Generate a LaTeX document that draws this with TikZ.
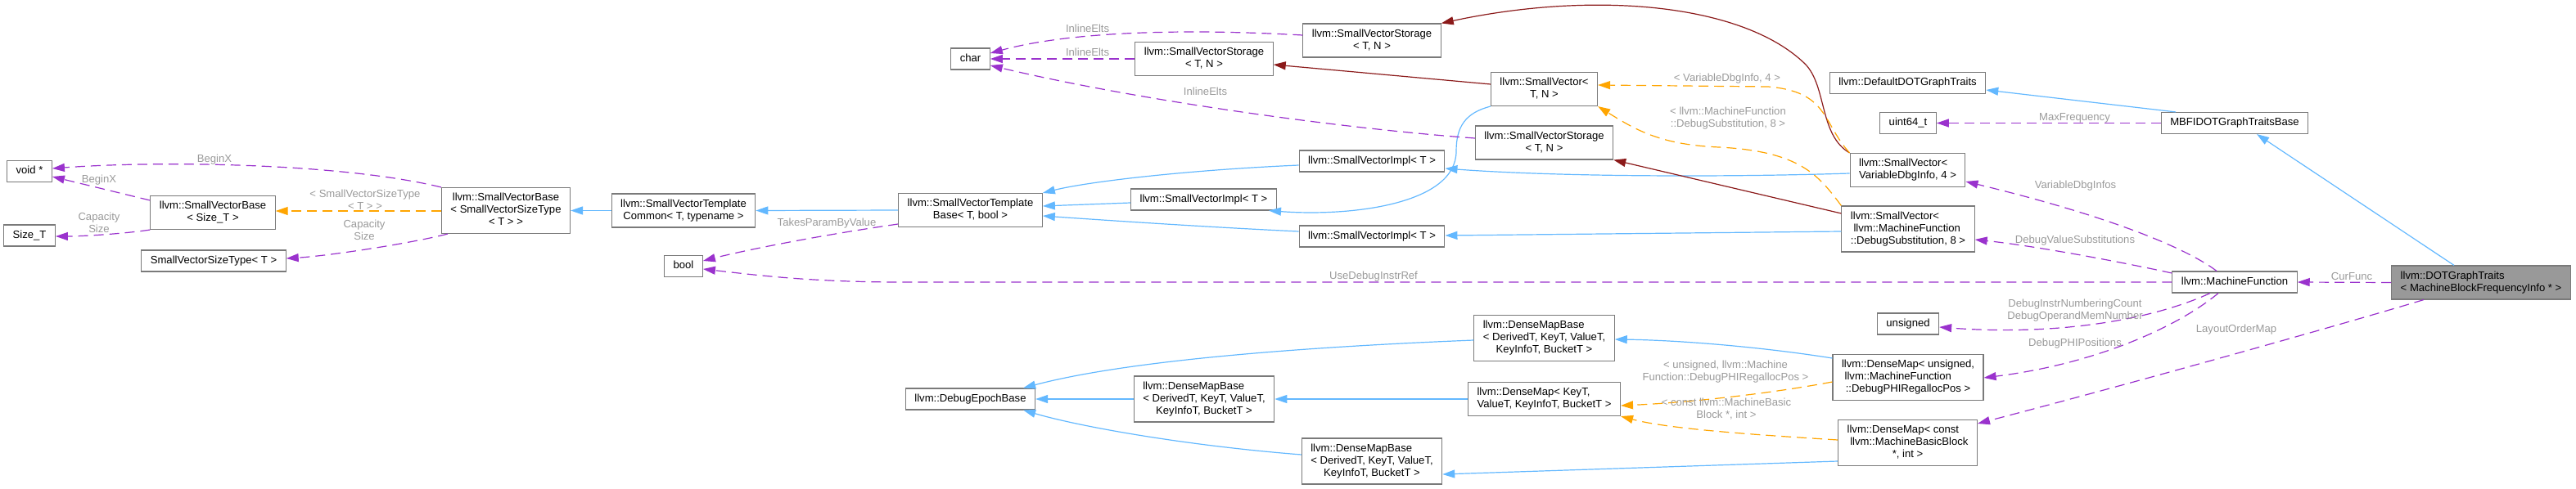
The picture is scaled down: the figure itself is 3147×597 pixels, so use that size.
\documentclass[tikz,border=0pt]{standalone}
\usepackage{fontspec}
\setmainfont{Liberation Sans}
\usepackage{xcolor}
\usetikzlibrary{arrows.meta}
\definecolor{inhblue}{HTML}{63B8FF}
\definecolor{protred}{HTML}{8B1A1A}
\definecolor{tmplorange}{HTML}{FFA500}
\definecolor{usepurple}{HTML}{9A32CD}
\definecolor{lblgray}{HTML}{9A9A9A}
\definecolor{boxgray}{HTML}{7A7A7A}
\definecolor{maingray}{HTML}{999999}
\newcommand{\boxlines}[1]{\begin{tabular}{@{}c@{}}#1\end{tabular}}
\newcommand{\lft}[1]{\multicolumn{1}{@{}l@{}}{#1}}
\tikzset{
    cls/.style={draw=boxgray, line width=1.1pt, fill=white, inner xsep=11pt, inner ysep=5.5pt, font=\fontsize{13.1}{15}\selectfont},
    inh/.style={draw=inhblue, line width=1.2pt, -{Triangle[length=15pt,width=10pt]}},
    prot/.style={draw=protred, line width=1.2pt, -{Triangle[length=15pt,width=10pt]}},
    tmpl/.style={draw=tmplorange, line width=1.2pt, dash pattern=on 12pt off 7pt, -{Triangle[length=15pt,width=10pt]}},
    uses/.style={draw=usepurple, line width=1.2pt, dash pattern=on 12pt off 7pt, -{Triangle[length=15pt,width=10pt]}},
    lbl/.style={text=lblgray, inner sep=0pt, align=center, font=\fontsize{13.1}{15}\selectfont}
}

\begin{document}
\begin{tikzpicture}[x=1pt, y=-1pt]
    \useasboundingbox (0,0) rectangle (3147,597);

    % classes
    \node[cls] (voidp) at (36,209.5) {\boxlines{void *}};
    \node[cls] (sizeT) at (36,288) {\boxlines{Size\_T}};
    \node[cls] (svbSize) at (260,260) {\boxlines{llvm::SmallVectorBase\\< Size\_T >}};
    \node[cls] (svsType) at (261,319) {\boxlines{SmallVectorSizeType< T >}};
    \node[cls] (svbSST) at (618,257.5) {\boxlines{llvm::SmallVectorBase\\< SmallVectorSizeType\\< T > >}};
    \node[cls] (svtc) at (835,257.5) {\boxlines{llvm::SmallVectorTemplate\\Common< T, typename >}};
    \node[cls] (bool) at (835,325.5) {\boxlines{bool}};
    \node[cls] (char) at (1185.5,72) {\boxlines{char}};
    \node[cls] (svsA) at (1471,72) {\boxlines{llvm::SmallVectorStorage\\< T, N >}};
    \node[cls] (svsTop) at (1676,49.5) {\boxlines{llvm::SmallVectorStorage\\< T, N >}};
    \node[cls] (svtb) at (1185.5,257) {\boxlines{llvm::SmallVectorTemplate\\Base< T, bool >}};
    \node[cls] (svImplU) at (1676,197) {\boxlines{llvm::SmallVectorImpl< T >}};
    \node[cls] (svImplM) at (1470.5,244) {\boxlines{llvm::SmallVectorImpl< T >}};
    \node[cls] (svImplL) at (1676,289) {\boxlines{llvm::SmallVectorImpl< T >}};
    \node[cls] (SV) at (1886.5,109) {\boxlines{llvm::SmallVector<\\T, N >}};
    \node[cls] (svsL) at (1886.5,174.5) {\boxlines{llvm::SmallVectorStorage\\< T, N >}};
    \node[cls] (DEB) at (1185.5,488) {\boxlines{llvm::DebugEpochBase}};
    \node[cls] (dmbM) at (1471,488) {\boxlines{\lft{llvm::DenseMapBase}\\\lft{< DerivedT, KeyT, ValueT,}\\KeyInfoT, BucketT >}};
    \node[cls] (dmbU) at (1886.5,413.5) {\boxlines{\lft{llvm::DenseMapBase}\\\lft{< DerivedT, KeyT, ValueT,}\\KeyInfoT, BucketT >}};
    \node[cls] (dmK) at (1886.5,488) {\boxlines{\lft{llvm::DenseMap< KeyT,}\\ValueT, KeyInfoT, BucketT >}};
    \node[cls] (dmbL) at (1676,564) {\boxlines{\lft{llvm::DenseMapBase}\\\lft{< DerivedT, KeyT, ValueT,}\\KeyInfoT, BucketT >}};
    \node[cls] (DefDOT) at (2330.5,101.5) {\boxlines{llvm::DefaultDOTGraphTraits}};
    \node[cls] (uint64) at (2331,150.5) {\boxlines{uint64\_t}};
    \node[cls] (svVDI) at (2330.5,208) {\boxlines{\lft{llvm::SmallVector<}\\VariableDbgInfo, 4 >}};
    \node[cls] (svDS) at (2331,280) {\boxlines{\lft{llvm::SmallVector<}\\\lft{\ llvm::MachineFunction}\\::DebugSubstitution, 8 >}};
    \node[cls] (unsigned) at (2331,396) {\boxlines{unsigned}};
    \node[cls] (dmU) at (2331,461.5) {\boxlines{\lft{llvm::DenseMap< unsigned,}\\\lft{\ llvm::MachineFunction}\\::DebugPHIRegallocPos >}};
    \node[cls] (dmC) at (2330.5,541.5) {\boxlines{\lft{llvm::DenseMap< const}\\\lft{\ llvm::MachineBasicBlock}\\{*}, int >}};
    \node[cls] (MBFI) at (2730,150.5) {\boxlines{MBFIDOTGraphTraitsBase}};
    \node[cls] (MF) at (2730,345) {\boxlines{llvm::MachineFunction}};
    \node[cls, fill=maingray] (main) at (3031,345.5) {\boxlines{\lft{llvm::DOTGraphTraits}\\< MachineBlockFrequencyInfo * >}};

    % inheritance
    \draw[inh] (svtc.west) -- (svbSST.east);
    \draw[inh] (svtb.west) -- (svtc.east);
    \draw[inh] (svImplU.west |- 0,202) .. controls (1450,208) and (1330,222) .. (svtb.north east);
    \draw[inh] (svImplM.west |- 0,248) -- (svtb.east |- 0,252);
    \draw[inh] (svImplL.west |- 0,283) .. controls (1480,278) and (1360,270) .. (svtb.east |- 0,264);
    \draw[inh] (SV.south west) .. controls (1790,138) and (1779,155) .. (1779,185) .. controls (1779,250) and (1650,265) .. (svImplM.south -| 1550,0);
    \draw[inh] (svVDI.west |- 0,212) .. controls (2100,217) and (1900,216) .. (svImplU.east |- 0,206);
    \draw[inh] (svDS.west |- 0,283) -- (svImplL.east |- 0,288);
    \draw[inh] (dmbM.west) -- (DEB.east);
    \draw[inh] (dmbU.west |- 0,416) .. controls (1600,424) and (1380,440) .. ([xshift=-15pt]DEB.north east);
    \draw[inh] (dmbL.west |- 0,556) .. controls (1450,545) and (1320,522) .. ([xshift=-15pt]DEB.south east);
    \draw[inh] (dmK.west) -- (dmbM.east);
    \draw[inh] (dmU.west |- 0,438) .. controls (2150,424) and (2050,416) .. (dmbU.east |- 0,415);
    \draw[inh] (dmC.west |- 0,564) -- (dmbL.east |- 0,580);
    \draw[inh] (MBFI.north -| 2658,0) -- (DefDOT.east |- 0,110);
    \draw[inh] (main.north -| 2998,0) -- (MBFI.south -| 2757,0);

    % protected inheritance
    \draw[prot] (SV.west |- 0,103) -- (svsA.east |- 0,79);
    \draw[prot] (svVDI.north west) .. controls (2222,165) and (2232,105) .. (2205,78) .. controls (2130,5) and (1950,-12) .. (svsTop.north east);
    \draw[prot] (svDS.west |- 0,261) -- (svsL.south east);

    % template instances
    \draw[tmpl] (svbSST.west |- 0,258) -- (svbSize.east |- 0,258);
    \draw[tmpl] (svVDI.north west) .. controls (2226,150) and (2234,112) .. (2160,106) -- (SV.east |- 0,104);
    \draw[tmpl] (svDS.north west) .. controls (2222,215) and (2200,185) .. (2100,180) .. controls (2030,177) and (2000,160) .. (SV.south east);
    \draw[tmpl] (dmU.west |- 0,467) .. controls (2170,480) and (2070,492) .. (dmK.east |- 0,496);
    \draw[tmpl] (dmC.west |- 0,538) .. controls (2150,532) and (2040,525) .. (dmK.south east);

    % members
    \draw[uses] (svbSize.west |- 0,245) -- (voidp.east |- 0,216);
    \draw[uses] (svbSST.north west) .. controls (420,200) and (200,196) .. (voidp.east |- 0,206);
    \draw[uses] (svbSize.south west) .. controls (150,286) and (100,289) .. (sizeT.east |- 0,289);
    \draw[uses] ([xshift=8pt]svbSST.south west) .. controls (500,298) and (400,313) .. (svsType.east |- 0,316);
    \draw[uses] (svtb.west |- 0,274) .. controls (1000,288) and (910,306) .. (bool.east |- 0,319);
    \draw[uses] (MF.west) -- (1100,345) .. controls (990,345) and (920,336) .. (bool.east |- 0,329);
    \draw[uses] (svsA.west) -- (char.east);
    \draw[uses] (svsTop.west |- 0,43) .. controls (1450,35) and (1310,38) .. (char.east |- 0,65);
    \draw[uses] (svsL.west |- 0,169) .. controls (1650,158) and (1400,125) .. (char.east |- 0,80);
    \draw[uses] (MBFI.west) -- (uint64.east);
    \draw[uses] (MF.north -| 2708,0) .. controls (2680,310) and (2600,270) .. (svVDI.east |- 0,222);
    \draw[uses] (MF.west |- 0,334) .. controls (2580,318) and (2480,300) .. (svDS.east |- 0,293);
    \draw[uses] (MF.south -| 2700,0) .. controls (2620,395) and (2500,410) .. (unsigned.east |- 0,400);
    \draw[uses] (MF.south -| 2710,0) .. controls (2660,400) and (2560,445) .. (dmU.east |- 0,462);
    \draw[uses] (main.west) -- (MF.east);
    \draw[uses] (main.south -| 2961,0) .. controls (2850,400) and (2600,470) .. (dmC.east |- 0,518);

    % edge labels
    \node[lbl] (lBeginX) at (121,220) {BeginX};
    \node[lbl] (lBeginXb) at (262,195) {BeginX};
    \node[lbl] (lCap) at (121,272) {Capacity\\Size};
    \node[lbl] (lCapb) at (445,281) {Capacity\\Size};
    \node[lbl] (lSizeType) at (446,244.5) {< SmallVectorSizeType\\< T > >};
    \node[lbl] (lTakes) at (1010,273) {TakesParamByValue};
    \node[lbl] (lUseDbg) at (1678,338) {UseDebugInstrRef};
    \node[lbl] (lInlineA) at (1328.6,64) {InlineElts};
    \node[lbl] (lInlineTop) at (1328.6,35) {InlineElts};
    \node[lbl] (lInlineL) at (1472.5,112) {InlineElts};
    \node[lbl] (lVDI) at (2110,96) {< VariableDbgInfo, 4 >};
    \node[lbl] (lDS) at (2111,145) {< llvm::MachineFunction\\::DebugSubstitution, 8 >};
    \node[lbl] (lPHI) at (2108,455) {< unsigned, llvm::Machine\\Function::DebugPHIRegallocPos >};
    \node[lbl] (lMBB) at (2109,500) {< const llvm::MachineBasic\\Block *, int >};
    \node[lbl] (lMaxFreq) at (2534.5,144) {MaxFrequency};
    \node[lbl] (lVarInfos) at (2535.5,227) {VariableDbgInfos};
    \node[lbl] (lValSubst) at (2535,294) {DebugValueSubstitutions};
    \node[lbl] (lNumbering) at (2535,380) {DebugInstrNumberingCount\\DebugOperandMemNumber};
    \node[lbl] (lPHIPos) at (2535,420) {DebugPHIPositions};
    \node[lbl] (lCurFunc) at (2873,338) {CurFunc};
    \node[lbl] (lLayout) at (2732,403) {LayoutOrderMap};
\end{tikzpicture}
\end{document}
